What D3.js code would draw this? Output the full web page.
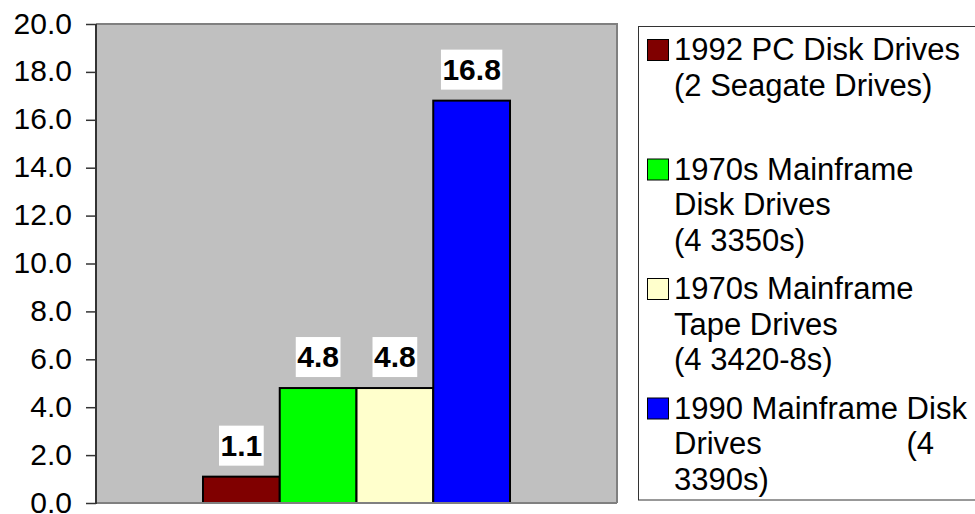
<!DOCTYPE html>
<html>
<head>
<meta charset="utf-8">
<script src="https://cdn.jsdelivr.net/npm/d3@7"></script>
<style>
  body { margin: 0; background: #fff; }
  svg { display: block; font-family: "Liberation Sans", Arial, sans-serif; }
</style>
</head>
<body>
<div id="chart-area"></div>
<script>
// data
const series = ["1992 PC Disk Drives", "1970s Mainframe Disk Drives", "1970s Mainframe Tape Drives", "1990 Mainframe Disk Drives"];
const values = [1.1, 4.8, 4.8, 16.8];
const colors = ["#800000", "#00ff00", "#ffffcc", "#0000ff"];
// legend text, wrapped as in the picture ("\t" = justified gap)
const legendLines = [
  ["1992 PC Disk Drives", "(2 Seagate Drives)"],
  ["1970s Mainframe", "Disk Drives", "(4 3350s)"],
  ["1970s Mainframe", "Tape Drives", "(4 3420-8s)"],
  ["1990 Mainframe Disk", "Drives\t(4", "3390s)"]
];
const yTicks = [0, 2, 4, 6, 8, 10, 12, 14, 16, 18, 20];

const W = 975, H = 514;
const plot = { left: 96, top: 24, right: 617, bottom: 503 };

let svg = d3.select("#chart-area").append("svg")
  .attr("width", W)
  .attr("height", H);

// plot area background
svg.append("rect")
  .attr("x", plot.left)
  .attr("y", plot.top)
  .attr("width", plot.right - plot.left)
  .attr("height", plot.bottom - plot.top)
  .attr("fill", "#c0c0c0");

// frame on top and right
svg.append("path")
  .attr("d", `M${plot.left},${plot.top}H${plot.right}V${plot.bottom}`)
  .attr("fill", "none")
  .attr("stroke", "#808080")
  .attr("stroke-width", 2);

let y = d3.scaleLinear().domain([0, 20]).range([plot.bottom, plot.top]);

// one category, four bars side by side
let x0 = d3.scaleBand().domain(["all"])
  .range([plot.left, plot.right])
  .paddingOuter(0.3485);
let x1 = d3.scaleBand().domain(series)
  .range([0, x0.bandwidth()]);

let bars = svg.append("g").attr("transform", `translate(${x0("all")},0)`);

bars.selectAll("rect")
  .data(series)
  .enter()
  .append("rect")
  .attr("x", d => x1(d))
  .attr("y", (d, i) => y(values[i]))
  .attr("width", x1.bandwidth())
  .attr("height", (d, i) => y(0) - y(values[i]))
  .attr("fill", (d, i) => colors[i])
  .attr("stroke", "#000")
  .attr("stroke-width", 2);

// value labels with white boxes
let labels = bars.selectAll("g.label")
  .data(series)
  .enter()
  .append("g")
  .attr("class", "label");

labels.append("rect").attr("fill", "#fff");
labels.append("text")
  .attr("x", d => x1(d) + x1.bandwidth() / 2)
  .attr("y", (d, i) => y(values[i]) - 21)
  .attr("text-anchor", "middle")
  .attr("font-size", "30px")
  .attr("font-weight", "bold")
  .attr("fill", "#000")
  .text((d, i) => d3.format(".1f")(values[i]));

labels.each(function (d, i) {
  let g = d3.select(this);
  let w = g.select("text").node().getComputedTextLength() + 3;
  let bottom = y(values[i]) - 11;
  g.select("rect")
    .attr("x", x1(d) + x1.bandwidth() / 2 - w / 2)
    .attr("y", bottom - 40)
    .attr("width", w)
    .attr("height", 40);
});

// axes
let yAxis = d3.axisLeft(y)
  .tickValues(yTicks)
  .tickFormat(d3.format(".1f"))
  .tickSize(10)
  .tickPadding(14);

let yG = svg.append("g")
  .attr("transform", `translate(${plot.left},0)`)
  .call(yAxis);
yG.select(".domain").remove();
yG.selectAll(".tick line").attr("stroke", "#333").attr("stroke-width", 1.5);
yG.selectAll(".tick text")
  .attr("font-family", "Liberation Sans, Arial, sans-serif")
  .attr("font-size", "30px")
  .attr("dy", "0.3em")
  .attr("fill", "#000");

// bottom line
svg.append("line")
  .attr("x1", plot.left).attr("x2", plot.right)
  .attr("y1", plot.bottom).attr("y2", plot.bottom)
  .attr("stroke", "#808080")
  .attr("stroke-width", 2);
// left axis line
svg.append("line")
  .attr("x1", plot.left).attr("x2", plot.left)
  .attr("y1", plot.top).attr("y2", plot.bottom + 1)
  .attr("stroke", "#333")
  .attr("stroke-width", 2);

// legend
let legend = svg.append("g");
legend.append("rect")
  .attr("x", 638.5)
  .attr("y", 26.5)
  .attr("width", 400)
  .attr("height", 473.5)
  .attr("fill", "#fff")
  .attr("stroke", "#333")
  .attr("stroke-width", 1);

let items = legend.selectAll("g.item")
  .data(series)
  .enter()
  .append("g")
  .attr("class", "item")
  .attr("transform", (d, i) => `translate(0, ${60 + i * 119.5})`);

items.append("rect")
  .attr("x", 647.5)
  .attr("y", -20.5)
  .attr("width", 21)
  .attr("height", 21)
  .attr("fill", (d, i) => colors[i])
  .attr("stroke", "#000")
  .attr("stroke-width", 1);

items.each(function (d, i) {
  let g = d3.select(this);
  legendLines[i].forEach(function (line, j) {
    let parts = line.split("\t");
    g.append("text")
      .attr("x", 674)
      .attr("y", j * 35.5)
      .attr("font-size", "31px")
      .attr("fill", "#000")
      .text(parts[0]);
    if (parts.length > 1) {
      g.append("text")
        .attr("x", 934)
        .attr("y", j * 35.5)
        .attr("text-anchor", "end")
        .attr("font-size", "31px")
        .attr("fill", "#000")
        .text(parts[1]);
    }
  });
});
</script>
</body>
</html>
